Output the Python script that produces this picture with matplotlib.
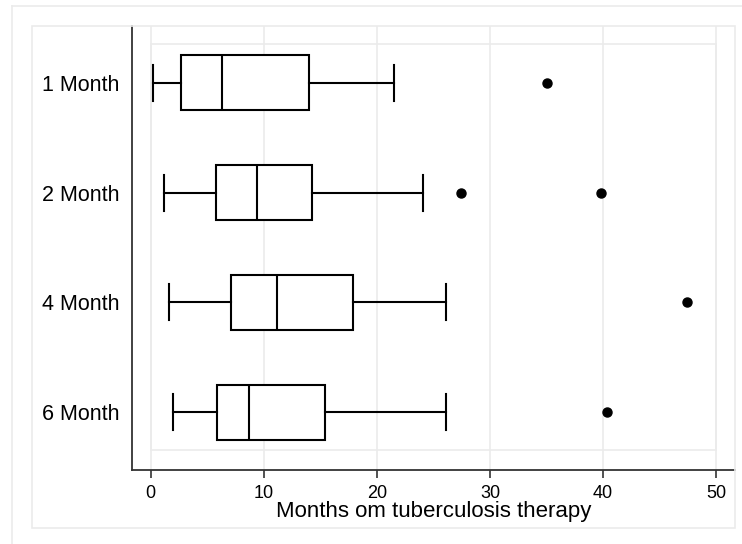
import matplotlib.pyplot as plt
from matplotlib.patches import Rectangle
from matplotlib.lines import Line2D

plt.rcParams['font.family'] = ['Liberation Sans', 'DejaVu Sans']

# values
groups = ["1 Month", "2 Month", "4 Month", "6 Month"]
whisker_lo = [0.2, 1.2, 1.6, 2.0]
q1 = [2.7, 5.8, 7.1, 5.9]
median = [6.3, 9.4, 11.2, 8.7]
q3 = [14.0, 14.3, 17.9, 15.4]
whisker_hi = [21.5, 24.1, 26.1, 26.1]
outliers = [[35.0], [27.4, 39.8], [47.4], [40.3]]

xticks = [0, 10, 20, 30, 40, 50]
xlabel = "Months om tuberculosis therapy"

W, H = 742, 544
fig = plt.figure(figsize=(W / 100, H / 100), dpi=100)

# light outer frames (Stata graph region look)
frame_col = "#ebebeb"
fig.add_artist(Line2D([12 / W, 1], [1 - 6 / H, 1 - 6 / H], color=frame_col, lw=1.2))
fig.add_artist(Line2D([12 / W, 12 / W], [0, 1 - 6 / H], color=frame_col, lw=1.2))
fig.add_artist(Rectangle((32 / W, 1 - 528 / H), (735 - 32) / W, (528 - 26) / H,
                         transform=fig.transFigure, fill=False, ec=frame_col, lw=1.2))

ax = fig.add_axes([132 / W, 1 - 470 / H, (735 - 132) / W, (470 - 26) / H])

stats = []
for i, g in enumerate(groups):
    stats.append(dict(label=g, whislo=whisker_lo[i], q1=q1[i], med=median[i],
                      q3=q3[i], whishi=whisker_hi[i], fliers=outliers[i]))

pos = list(range(1, len(groups) + 1))
line = dict(color="black", lw=1.5)
ax.bxp(stats, positions=pos, vert=False, widths=0.5, patch_artist=True,
       boxprops=dict(facecolor="white", edgecolor="black", lw=1.5),
       medianprops=line, whiskerprops=line, capprops=line,
       capwidths=0.33,
       flierprops=dict(marker="o", markerfacecolor="black", markeredgecolor="black",
                       markersize=6.5))

ax.set_xlim(-1.65, 51.66)
ax.set_ylim(4.527, 0.482)

# gridlines and plot region border
for t in xticks:
    ax.axvline(t, color=frame_col, lw=1.2, zorder=0)
ax.add_patch(Rectangle((0, 0.645), 50, 4.345 - 0.645, fill=False, ec=frame_col,
                       lw=1.2, zorder=0))

ax.set_xticks(xticks)
ax.set_xticklabels([str(t) for t in xticks], fontsize=13)
ax.set_yticks(pos)
ax.set_yticklabels(groups, fontsize=15.5)
ax.tick_params(axis="y", length=0, pad=9)
ax.tick_params(axis="x", length=6, width=1.2, color="#333333", pad=5)
ax.set_xlabel(xlabel, fontsize=16, labelpad=-1)

for s in ["top", "right"]:
    ax.spines[s].set_visible(False)
for s in ["left", "bottom"]:
    ax.spines[s].set_color("#333333")
    ax.spines[s].set_linewidth(1.3)

fig.savefig("out.png", dpi=100)
